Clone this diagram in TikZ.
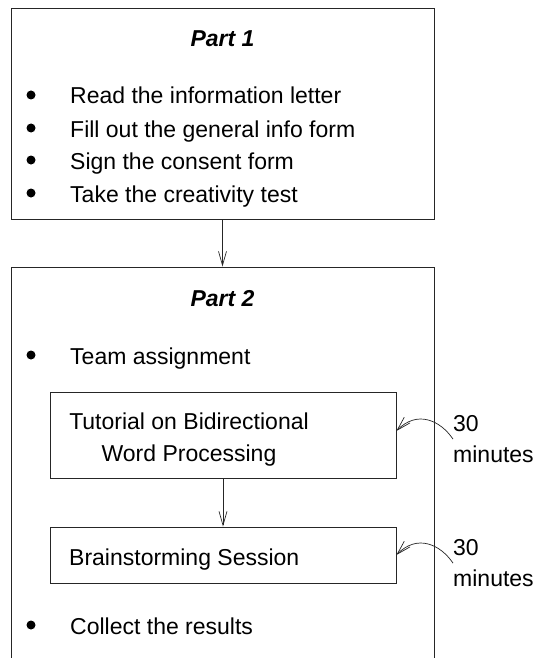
\documentclass[tikz,border=0pt]{standalone}
\usepackage{fontspec}
\setmainfont{Liberation Sans}
\usetikzlibrary{arrows.meta}
\begin{document}
\begin{tikzpicture}[x=1pt,y=-1pt,
  box/.style={draw=black!85, line width=0.8pt, inner sep=0pt},
  txt/.style={inner sep=0pt, anchor=base west, font=\fontsize{23}{32}\selectfont},
  head/.style={inner sep=0pt, anchor=base, font=\fontsize{23}{32}\selectfont\bfseries\itshape},
  dot/.style={circle, fill=black, inner sep=0pt, minimum size=9pt},
  arr/.style={draw=black!85, line width=0.7pt, -{Straight Barb[length=14pt,width=8pt,line width=0.7pt]}},
  lab/.style={inner sep=0pt, anchor=north west, align=left, font=\fontsize{23}{30.5}\selectfont}
]
\useasboundingbox (0,0) rectangle (534,658);
\clip (0,0) rectangle (534,658);
% boxes
\node[box, minimum width=423pt, minimum height=211pt] (part1) at (222.5,113.5) {};
\node[box, minimum width=423pt, minimum height=433pt] (part2) at (222.5,483.5) {};
\node[box, minimum width=346pt, minimum height=86pt] (tutbox) at (223,435) {};
\node[box, minimum width=346pt, minimum height=56pt] (brainbox) at (223,555) {};
% Part 1
\node[head] (h1) at (222.5,47) {Part 1};
\node[dot] (b1) at (31,95) {};
\node[txt] (t1) at (70,104) {Read the information letter};
\node[dot] (b2) at (31,128) {};
\node[txt] (t2) at (70,137) {Fill out the general info form};
\node[dot] (b3) at (31,160) {};
\node[txt] (t3) at (70,169) {Sign the consent form};
\node[dot] (b4) at (31,193) {};
\node[txt] (t4) at (70,202) {Take the creativity test};
% Part 2
\node[head] (h2) at (222.5,306) {Part 2};
\node[dot] (b5) at (31,355) {};
\node[txt] (t5) at (70,364) {Team assignment};
\node[inner sep=0pt, anchor=north, align=center, font=\fontsize{23}{32}\selectfont] (tut) at (189,413) {Tutorial on Bidirectional\\Word Processing};
\node[txt] (brain) at (69,565) {Brainstorming Session};
\node[dot] (b6) at (31,625) {};
\node[txt] (t6) at (70,634) {Collect the results};
% labels
\node[lab] (lab1) at (453,415.5) {30\\minutes};
\node[lab] (lab2) at (453,539.5) {30\\minutes};
% connectors
\draw[arr] (part1.south) -- (part2.north);
\draw[arr] (tutbox.south) -- (brainbox.north);
\draw[arr] (lab1.west) .. controls (440,420) and (417,410) .. ([yshift=4pt]tutbox.east);
\draw[arr] (lab2.west) .. controls (440,544) and (417,534) .. (brainbox.east);
\end{tikzpicture}
\end{document}
